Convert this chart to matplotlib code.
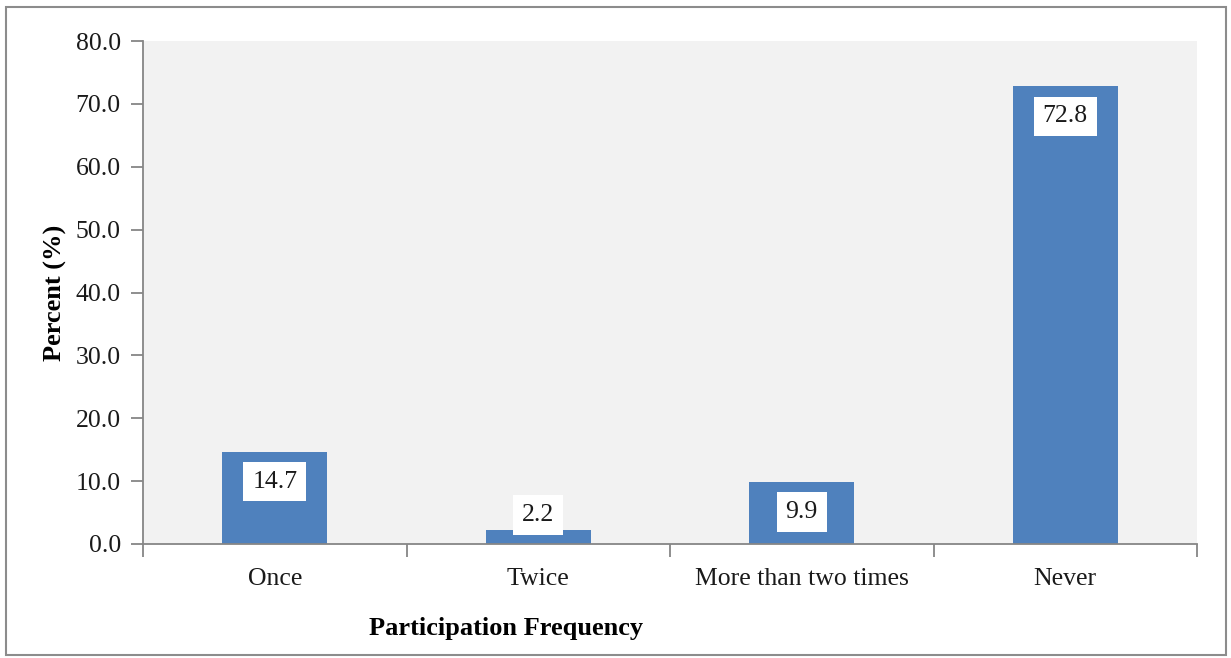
import numpy as np
import matplotlib.pyplot as plt
from matplotlib.patches import Rectangle

# participation frequency data
categories = ['Once', 'Twice', 'More than two times', 'Never']
percent = [14.7, 2.2, 9.9, 72.8]
yticks = [0, 10, 20, 30, 40, 50, 60, 70, 80]

plt.rcParams['font.family'] = ['Liberation Serif', 'DejaVu Serif']

W, H = 1231, 658
fig = plt.figure(figsize=(W / 100, H / 100), dpi=100)
ax = fig.add_axes([143 / W, 1 - 544 / H, (1197 - 143) / W, (544 - 41) / H])
ax.set_facecolor('#F2F2F2')

x = np.arange(len(categories))
ax.bar(x, percent, width=0.4, color='#4F81BD', zorder=2)

# value labels in white boxes near the top of each bar
for xi, v in zip(x, percent):
    ly = max(v - 4.8, 4.6)
    ax.text(xi, ly, f'{v:.1f}', ha='center', va='center', fontsize=18.5,
            color='#1a1a1a', zorder=3,
            bbox=dict(boxstyle='square,pad=0.34', fc='white', ec='none'))

ax.set_xlim(-0.5, len(categories) - 0.5)
ax.set_ylim(0, 80)
ax.set_yticks(yticks)
ax.set_yticklabels([f'{t:.1f}' for t in yticks], fontsize=18.5, color='#1a1a1a')
ax.set_xticks(x)
ax.set_xticklabels(categories, fontsize=18.5, color='#1a1a1a')
ax.tick_params(axis='x', length=0, pad=17)
ax.tick_params(axis='y', length=9, width=1.3, color='#868686', pad=7)

# category boundary ticks along the x axis
ax.set_xticks(np.arange(-0.5, len(categories)), minor=True)
ax.tick_params(axis='x', which='minor', length=9, width=1.3, color='#868686')

for s in ['top', 'right']:
    ax.spines[s].set_visible(False)
for s in ['left', 'bottom']:
    ax.spines[s].set_color('#868686')
    ax.spines[s].set_linewidth(1.3)

ax.set_ylabel('Percent (%)', fontsize=19, fontweight='bold', labelpad=6)
fig.text(506 / W, 1 - 628 / H, 'Participation Frequency', fontsize=19,
         fontweight='bold', ha='center', va='center')

# outer frame
fig.patches.append(Rectangle((6 / W, 3 / H), 1220 / W, 648 / H, transform=fig.transFigure,
                             fill=False, ec='#8c8c8c', lw=1.5))

fig.savefig('out.png', dpi=100)
